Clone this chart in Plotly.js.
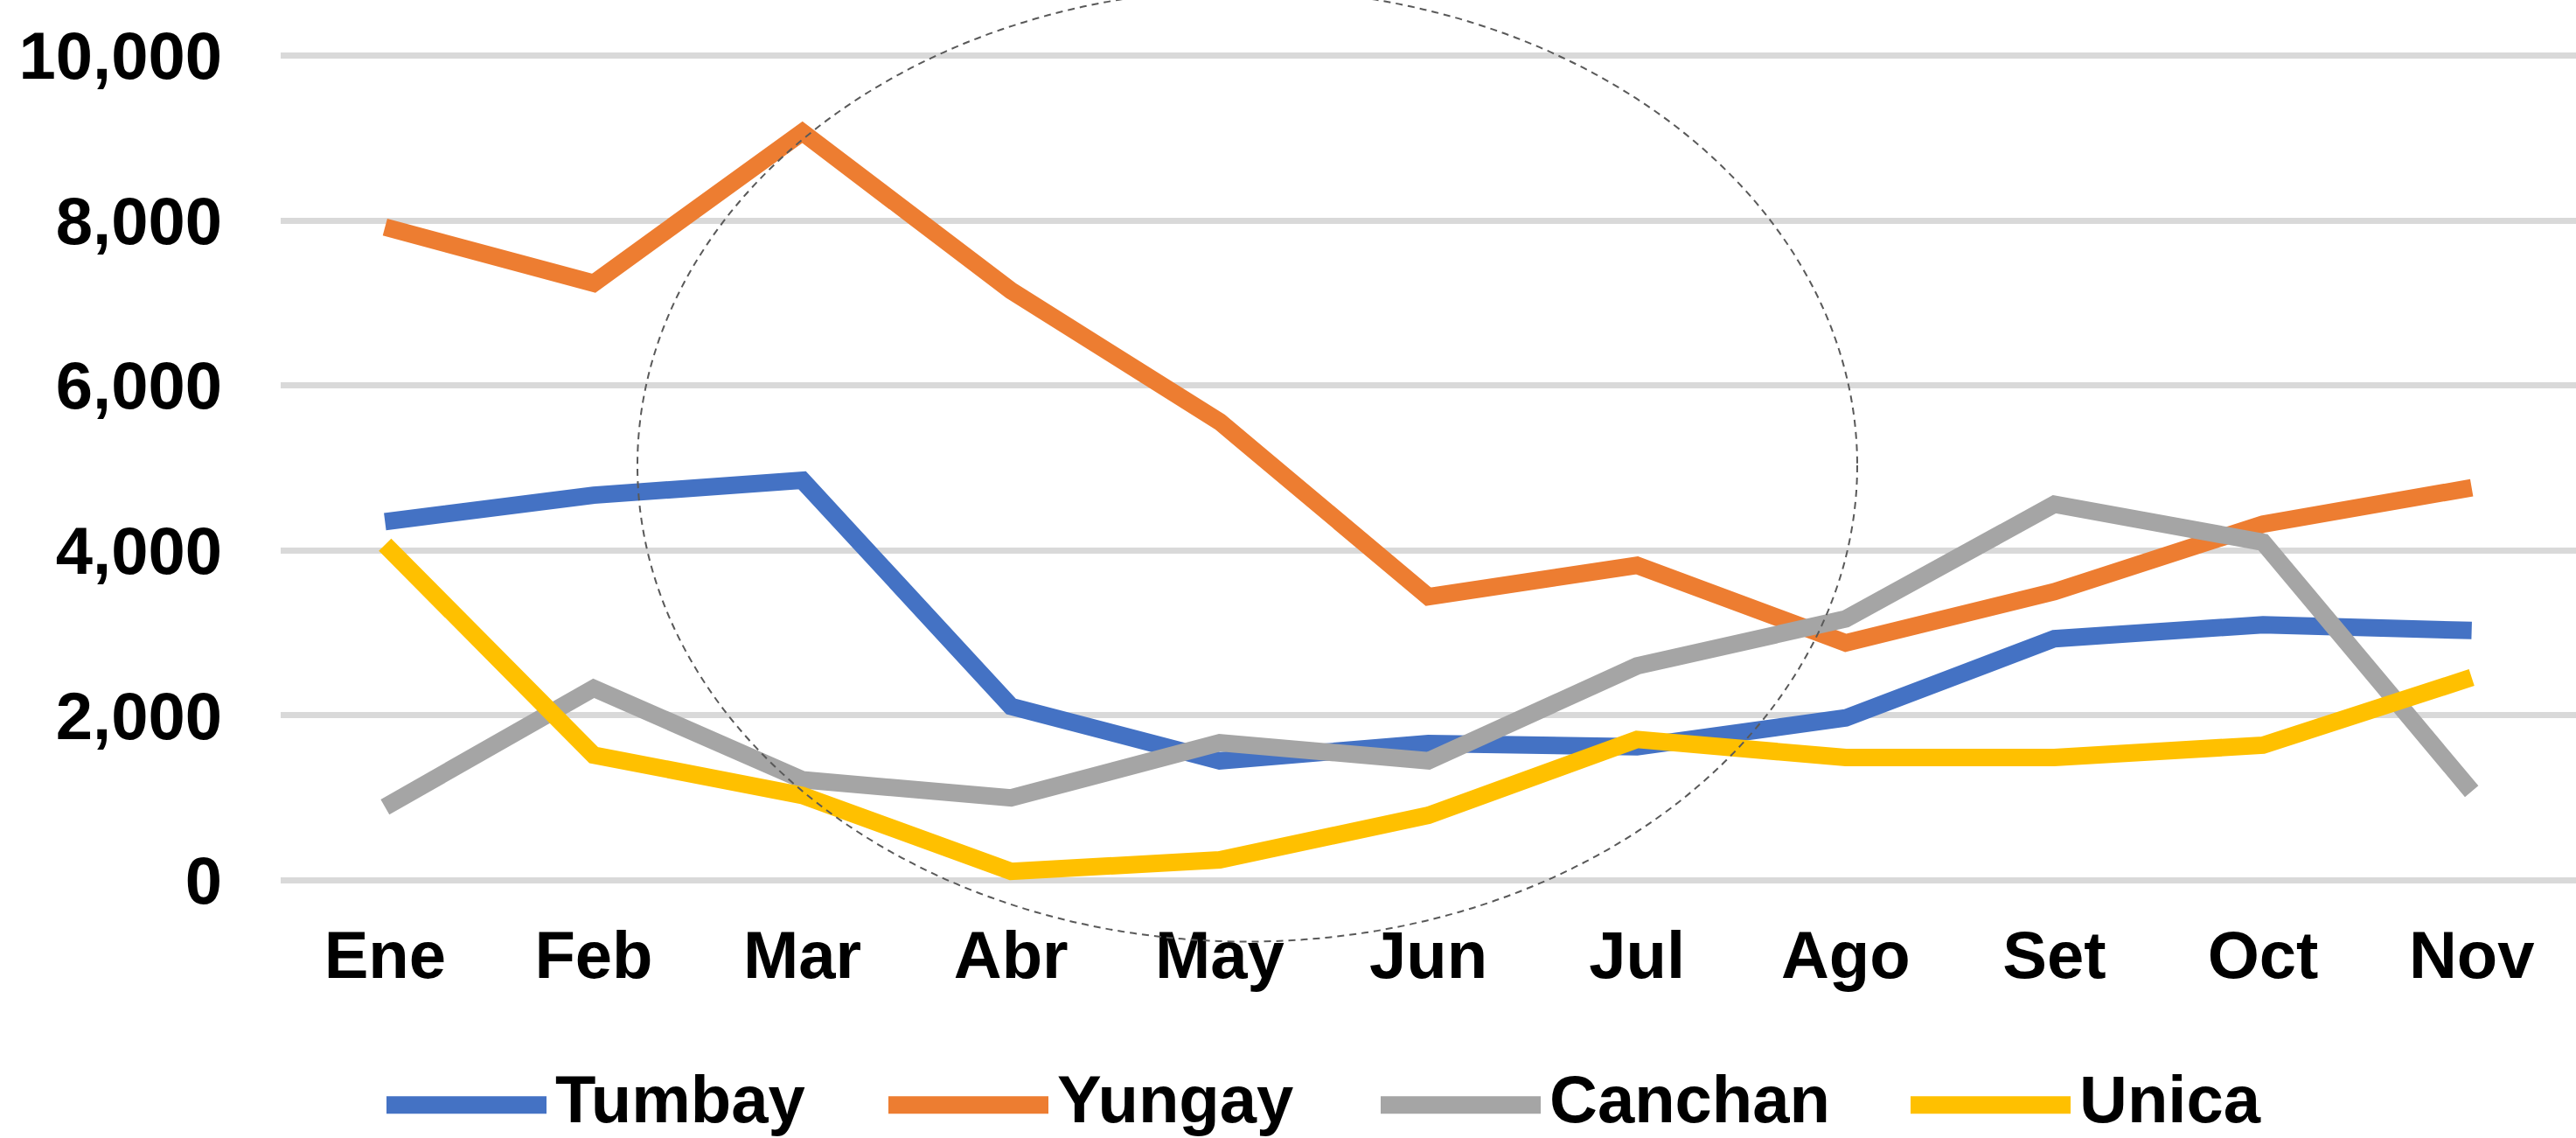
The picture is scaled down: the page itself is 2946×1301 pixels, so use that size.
<!DOCTYPE html>
<html>
<head>
<meta charset="utf-8">
<script src="https://cdn.plot.ly/plotly-3.0.1.min.js"></script>
<style>html,body{margin:0;padding:0;background:#fff;}#chart{width:2946px;height:1301px;}</style>
</head>
<body>
<div id="chart"></div>
<script>
const months = ["Ene","Feb","Mar","Abr","May","Jun","Jul","Ago","Set","Oct","Nov"];
const tumbay  = [4350, 4670, 4850, 2110, 1450, 1660, 1620, 1970, 2930, 3100, 3030];
const yungay  = [7920, 7240, 9070, 7150, 5560, 3440, 3820, 2880, 3500, 4320, 4760];
const canchan = [890, 2330, 1220, 1000, 1670, 1450, 2600, 3170, 4560, 4100, 1080];
const unica   = [4070, 1520, 1030, 110, 250, 790, 1710, 1490, 1490, 1640, 2460];
const yTicks  = [0, 2000, 4000, 6000, 8000, 10000];

const names  = ["Tumbay","Yungay","Canchan","Unica"];
const series = [tumbay, yungay, canchan, unica];
const colors = ["#4472C4","#ED7D31","#A5A5A5","#FFC000"];

const font = {family: "Liberation Sans, Arial, sans-serif", size: 76, color: "#000000", weight: 700};

const traces = series.map((vals, i) => ({
  type: "scatter", mode: "lines", name: names[i],
  x: months, y: vals,
  line: {color: colors[i], width: 20},
  hoverinfo: "skip", showlegend: false
}));

// plot area in pixels (for converting legend / ellipse placement to paper coords)
const W = 2946, H = 1301;
const L = 321, R = 0, T = 53.56, B = 284.56;
const pw = W - L - R, ph = H - T - B;
const px = v => (v - L) / pw;
const py = v => (H - B - v) / ph;

// custom legend (long swatches as in the original)
const legendX = [442, 1016, 1579, 2185];
const swatchLen = 183, legendY = 1264, textY = 1257;
const shapes = [{
  type: "circle", xref: "paper", yref: "paper", layer: "above",
  x0: px(729), x1: px(2124), y0: py(1077), y1: py(-13),
  line: {color: "#595959", width: 2, dash: "8px,6px"}
}];
const annotations = [];
names.forEach((n, i) => {
  shapes.push({
    type: "line", xref: "paper", yref: "paper",
    x0: px(legendX[i]), x1: px(legendX[i] + swatchLen), y0: py(legendY), y1: py(legendY),
    line: {color: colors[i], width: 20}
  });
  annotations.push({
    xref: "paper", yref: "paper", x: px(legendX[i] + swatchLen + 8), y: py(textY),
    xanchor: "left", yanchor: "middle", showarrow: false, text: n, font: font
  });
});

const layout = {
  width: W, height: H,
  margin: {l: L, r: R, t: T, b: B},
  paper_bgcolor: "#ffffff", plot_bgcolor: "#ffffff",
  font: font,
  showlegend: false,
  xaxis: {
    type: "category", range: [-0.5, 10.5],
    showgrid: false, zeroline: false, showline: false,
    ticks: "", ticklabelstandoff: 25, tickfont: font
  },
  yaxis: {
    range: [-100, 10100], tickvals: yTicks, tickformat: ",",
    showgrid: true, gridcolor: "#D9D9D9", gridwidth: 7,
    zeroline: false, showline: false, ticks: "",
    ticklabelstandoff: 66, tickfont: font
  },
  shapes: shapes,
  annotations: annotations
};

Plotly.newPlot("chart", traces, layout, {displayModeBar: false, staticPlot: true});
</script>
</body>
</html>
